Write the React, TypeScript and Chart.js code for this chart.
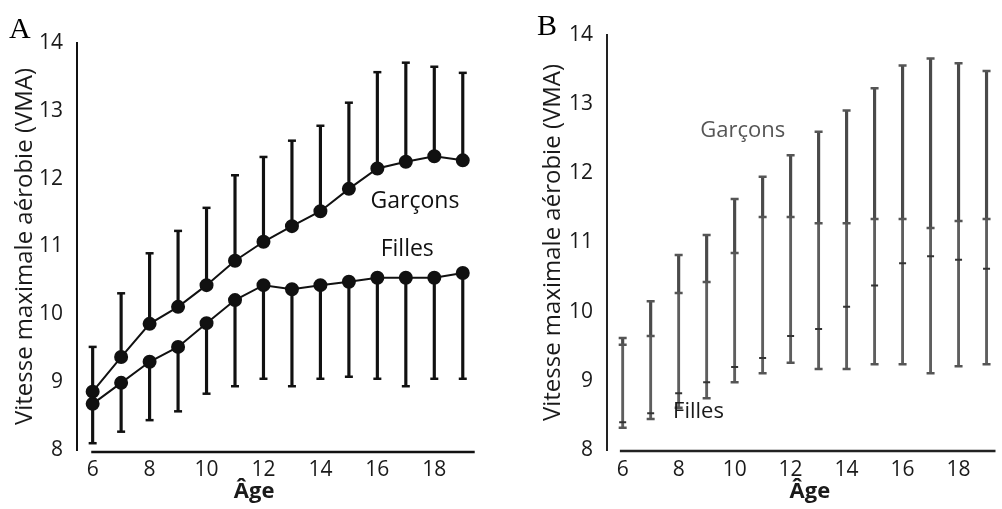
import React, { useEffect, useRef } from 'react';
import { Chart, registerables } from 'chart.js';

Chart.register(...registerables);

// ---------- data ----------
const ages = [6, 7, 8, 9, 10, 11, 12, 13, 14, 15, 16, 17, 18, 19];
const xTickValues = [6, 8, 10, 12, 14, 16, 18];
const yTickValues = [8, 9, 10, 11, 12, 13, 14];

// Panel A
const boysMeanA = [8.86, 9.37, 9.86, 10.11, 10.43, 10.79, 11.07, 11.3, 11.52, 11.85, 12.15, 12.25, 12.33, 12.27];
const boysUpperA = [9.52, 10.31, 10.9, 11.23, 11.57, 12.05, 12.32, 12.56, 12.78, 13.12, 13.57, 13.71, 13.65, 13.56];
const girlsMeanA = [8.68, 8.99, 9.3, 9.52, 9.87, 10.21, 10.43, 10.37, 10.43, 10.48, 10.54, 10.54, 10.54, 10.61];
const girlsLowerA = [8.1, 8.27, 8.44, 8.57, 8.83, 8.94, 9.05, 8.94, 9.05, 9.08, 9.05, 8.94, 9.05, 9.05];

// Panel B
const boysUpperB = [9.62, 10.15, 10.82, 11.11, 11.63, 11.95, 12.26, 12.6, 12.91, 13.23, 13.56, 13.66, 13.59, 13.48];
const boysMeanB = [9.52, 9.65, 10.27, 10.43, 10.85, 11.37, 11.37, 11.28, 11.28, 11.34, 11.34, 11.21, 11.31, 11.34];
const girlsMeanB = [8.4, 8.53, 8.82, 8.98, 9.2, 9.33, 9.65, 9.75, 10.07, 10.38, 10.7, 10.8, 10.75, 10.62];
const lowerB = [8.32, 8.45, 8.61, 8.75, 8.98, 9.11, 9.26, 9.17, 9.17, 9.24, 9.24, 9.11, 9.21, 9.24];

const yTitle = 'Vitesse maximale aérobie (VMA)';
const xTitle = 'Âge';
const labelBoys = 'Garçons';
const labelGirls = 'Filles';

const FONT = "'Open Sans', 'Noto Sans', sans-serif";

const pts = (vals: number[]) => ages.map((a, i) => ({ x: a, y: vals[i] }));
const ranges = (lo: number[], hi: number[]) => ages.map((a, i) => ({ x: a, y: [lo[i], hi[i]] }));

const decoPlugin = {
  id: 'deco',
  afterDraw(chart: any, _args: any, opts: any) {
    const { ctx, scales } = chart;
    const x = scales.x;
    const y = scales.y;
    ctx.save();
    ctx.strokeStyle = opts.axisColor;
    ctx.lineWidth = opts.axisWidth;
    const yb = y.getPixelForValue(y.min) + opts.axisOffset;
    ctx.beginPath();
    ctx.moveTo(x.getPixelForValue(opts.axisFrom), yb);
    ctx.lineTo(x.getPixelForValue(opts.axisTo), yb);
    ctx.stroke();
    ctx.font = opts.font;
    ctx.textAlign = 'center';
    ctx.textBaseline = 'middle';
    for (const l of opts.labels) {
      ctx.fillStyle = l.color;
      ctx.fillText(l.text, x.getPixelForValue(l.x), y.getPixelForValue(l.y));
    }
    ctx.restore();
  },
};

function scalesFor(p: {
  xMin: number; xMax: number; yWidth: number; xHeight: number; yTitlePad: number; color: string; axisColor: string; xTitleText: string;
}) {
  return {
    x: {
      type: 'linear',
      min: p.xMin,
      max: p.xMax,
      offset: false,
      grid: { display: false },
      border: { display: false },
      afterBuildTicks: (s: any) => { s.ticks = xTickValues.map((v) => ({ value: v })); },
      afterFit: (s: any) => { s.height = p.xHeight; },
      ticks: { color: p.color, font: { family: FONT, size: 21, weight: '500' }, padding: -1, maxRotation: 0, autoSkip: false },
      title: { display: true, text: p.xTitleText, color: p.color, font: { family: FONT, size: 22, weight: 'bold' }, padding: { top: 0, bottom: 4 } },
    },
    y: {
      type: 'linear',
      min: 8,
      max: 14,
      grid: { display: false },
      border: { display: true, color: p.axisColor, width: 2 },
      afterBuildTicks: (s: any) => { s.ticks = yTickValues.map((v) => ({ value: v })); },
      afterFit: (s: any) => { s.width = p.yWidth; },
      ticks: { color: p.color, font: { family: FONT, size: 21, weight: '500' }, padding: 6 },
      title: { display: true, text: yTitle, color: p.color, font: { family: FONT, size: 24, weight: '500' }, padding: { top: p.yTitlePad, bottom: 0 } },
    },
  };
}

function configA(): any {
  const black = '#111';
  return {
    type: 'bar',
    data: {
      datasets: [
        { type: 'scatter', data: pts(boysMeanA), showLine: true, borderColor: black, borderWidth: 2, pointRadius: 6, pointBackgroundColor: black, pointBorderColor: black, order: 1 },
        { type: 'scatter', data: pts(girlsMeanA), showLine: true, borderColor: black, borderWidth: 2, pointRadius: 6, pointBackgroundColor: black, pointBorderColor: black, order: 1 },
        { type: 'bar', data: ranges(boysMeanA, boysUpperA), backgroundColor: black, barThickness: 2.5, grouped: false, borderWidth: 0, order: 3 },
        { type: 'bar', data: ranges(girlsLowerA, girlsMeanA), backgroundColor: black, barThickness: 2.5, grouped: false, borderWidth: 0, order: 3 },
        { type: 'scatter', data: pts(boysUpperA), pointStyle: 'line', pointRadius: 4, borderColor: black, borderWidth: 2.5, order: 2 },
        { type: 'scatter', data: pts(girlsLowerA), pointStyle: 'line', pointRadius: 4, borderColor: black, borderWidth: 2.5, order: 2 },
      ],
    },
    options: {
      responsive: false,
      animation: false,
      layout: { padding: { left: 0, top: 43, right: 23, bottom: 0 } },
      scales: scalesFor({ xMin: 5.45, xMax: 19.5, yWidth: 77, xHeight: 59, yTitlePad: 11, color: '#1a1a1a', axisColor: '#111', xTitleText: xTitle + '\u00a0\u00a0\u00a0\u00a0\u00a0\u00a0\u00a0\u00a0' }),
      plugins: {
        legend: { display: false },
        tooltip: { enabled: false },
        deco: {
          axisColor: '#111', axisWidth: 2.5, axisOffset: 2, axisFrom: 5.95, axisTo: 19.42,
          font: `500 23px ${FONT}`,
          labels: [
            { text: labelBoys, x: 17.32, y: 11.66, color: '#111' },
            { text: labelGirls, x: 17.05, y: 10.96, color: '#111' },
          ],
        },
      },
    },
    plugins: [decoPlugin],
  };
}

function configB(): any {
  const gray = '#555';
  return {
    type: 'bar',
    data: {
      datasets: [
        { type: 'bar', data: ranges(boysMeanB, boysUpperB), backgroundColor: '#4a4a4a', barThickness: 2.5, grouped: false, borderWidth: 0, order: 3 },
        { type: 'bar', data: ranges(lowerB, boysMeanB), backgroundColor: '#5e5e5e', barThickness: 2.2, grouped: false, borderWidth: 0, order: 3 },
        { type: 'scatter', data: pts(boysUpperB), pointStyle: 'line', pointRadius: 4, borderColor: gray, borderWidth: 2.5, order: 2 },
        { type: 'scatter', data: pts(boysMeanB), pointStyle: 'line', pointRadius: 4, borderColor: gray, borderWidth: 2.5, order: 2 },
        { type: 'scatter', data: pts(girlsMeanB), pointStyle: 'line', pointRadius: 3.5, borderColor: '#333', borderWidth: 2, order: 2 },
        { type: 'scatter', data: pts(lowerB), pointStyle: 'line', pointRadius: 4, borderColor: gray, borderWidth: 2.5, order: 2 },
      ],
    },
    options: {
      responsive: false,
      animation: false,
      layout: { padding: { left: 0, top: 35, right: 0, bottom: 0 } },
      scales: scalesFor({ xMin: 5.44, xMax: 19.32, yWidth: 107, xHeight: 59, yTitlePad: 39, color: '#1a1a1a', axisColor: '#222', xTitleText: '\u00a0\u00a0\u00a0' + xTitle }),
      plugins: {
        legend: { display: false },
        tooltip: { enabled: false },
        deco: {
          axisColor: '#222', axisWidth: 2.5, axisOffset: 1, axisFrom: 5.9, axisTo: 19.32,
          font: `500 22px ${FONT}`,
          labels: [
            { text: labelBoys, x: 10.29, y: 12.61, color: '#555' },
            { text: labelGirls, x: 8.71, y: 8.56, color: '#1a1a1a' },
          ],
        },
      },
    },
    plugins: [decoPlugin],
  };
}

function ChartCanvas({ make, width, height }: { make: () => any; width: number; height: number }) {
  const ref = useRef<HTMLCanvasElement | null>(null);
  useEffect(() => {
    if (!ref.current) return;
    const chart = new Chart(ref.current, make());
    return () => chart.destroy();
  }, [make]);
  return <canvas ref={ref} width={width} height={height} style={{ width, height, display: 'block' }} />;
}

export default function App() {
  const letter: React.CSSProperties = {
    position: 'absolute',
    fontFamily: "'Liberation Serif', 'DejaVu Serif', serif",
    fontSize: 30,
    lineHeight: '30px',
    color: '#000',
  };
  return (
    <div style={{ position: 'absolute', left: 0, top: 0, width: 1002, height: 509, background: '#fff', overflow: 'hidden' }}>
      <div style={{ position: 'absolute', left: 0, top: 0 }}>
        <ChartCanvas make={configA} width={500} height={509} />
      </div>
      <div style={{ position: 'absolute', left: 500, top: 0 }}>
        <ChartCanvas make={configB} width={502} height={509} />
      </div>
      <div style={{ ...letter, left: 9, top: 13 }}>A</div>
      <div style={{ ...letter, left: 537, top: 10 }}>B</div>
    </div>
  );
}
